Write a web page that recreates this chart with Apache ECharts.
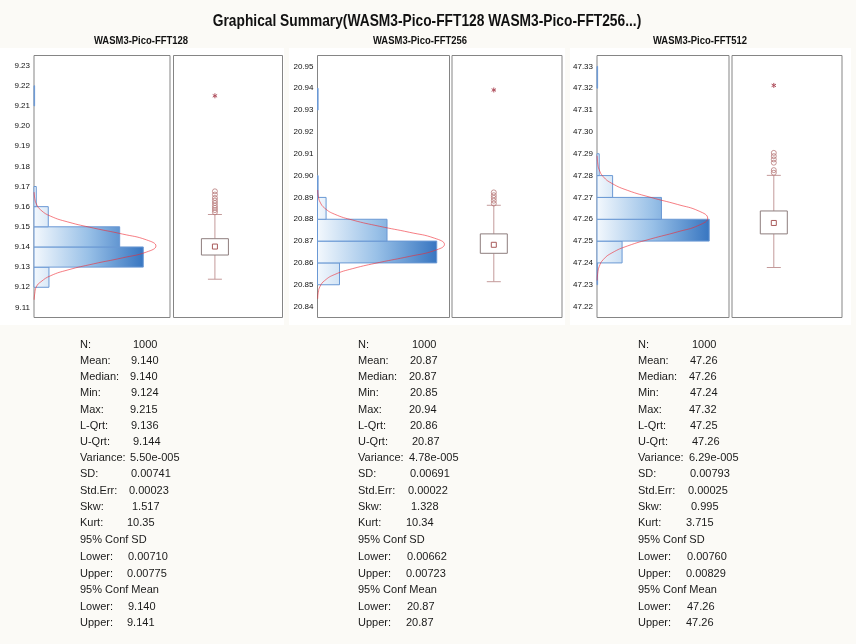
<!DOCTYPE html>
<html>
<head>
<meta charset="utf-8">
<script src="https://cdn.jsdelivr.net/npm/echarts@6/dist/echarts.min.js"></script>
<style>
  html, body { margin: 0; padding: 0; background: #fbfaf6; }
  #main { width: 856px; height: 644px; }
</style>
</head>
<body>
<div id="main"></div>
<script>
// ---- data ----
var chartTitle = "Graphical Summary(WASM3-Pico-FFT128 WASM3-Pico-FFT256...)";
var panelNames = ["WASM3-Pico-FFT128", "WASM3-Pico-FFT256", "WASM3-Pico-FFT512"];
var binWidth = 0.01;

// histogram bins (lower edge) and counts
var binLow128 = [9.12, 9.13, 9.14, 9.15, 9.16, 9.21];
var counts128 = [66, 482, 378, 63, 10, 1];
var binLow256 = [20.85, 20.86, 20.87, 20.88, 20.89, 20.93];
var counts256 = [100, 542, 316, 39, 2, 1];
var binLow512 = [47.23, 47.24, 47.25, 47.26, 47.27, 47.28, 47.32];
var counts512 = [1, 114, 510, 293, 71, 10, 1];

// value axis ranges and tick labels
var range128 = [9.105, 9.235];
var range256 = [20.835, 20.955];
var range512 = [47.215, 47.335];
var ticks128 = [9.11, 9.12, 9.13, 9.14, 9.15, 9.16, 9.17, 9.18, 9.19, 9.20, 9.21, 9.22, 9.23];
var ticks256 = [20.84, 20.85, 20.86, 20.87, 20.88, 20.89, 20.90, 20.91, 20.92, 20.93, 20.94, 20.95];
var ticks512 = [47.22, 47.23, 47.24, 47.25, 47.26, 47.27, 47.28, 47.29, 47.30, 47.31, 47.32, 47.33];

// normal fit curve, [value, count] points
var curve128 = [[9.1138, 0.8], [9.1168, 3.2], [9.1203, 10.7], [9.1227, 30.2], [9.1257, 72.8], [9.1286, 149.6],
  [9.1316, 261.9], [9.1346, 390.6], [9.1375, 496.6], [9.1405, 538], [9.1435, 496.6], [9.1464, 390.6],
  [9.1494, 261.9], [9.1524, 149.6], [9.1553, 72.8], [9.1583, 30.2], [9.1613, 10.7], [9.1642, 3.2], [9.1672, 0.8]];
var curve256 = [[20.8436, 0.9], [20.8464, 3.5], [20.8492, 11.4], [20.8519, 32.4], [20.8547, 78.1], [20.8574, 160.4],
  [20.8602, 280.9], [20.8630, 419.0], [20.8657, 532.6], [20.8685, 577], [20.8713, 532.6], [20.8740, 419.0],
  [20.8768, 280.9], [20.8796, 160.4], [20.8823, 78.1], [20.8851, 32.4], [20.8879, 11.4], [20.8906, 3.5], [20.8934, 0.9]];
var curve512 = [[47.2320, 0.8], [47.2351, 3.0], [47.2383, 10.0], [47.2415, 28.2], [47.2446, 68.1], [47.2478, 139.8],
  [47.2510, 244.9], [47.2542, 365.2], [47.2573, 464.3], [47.2605, 503], [47.2637, 464.3], [47.2668, 365.2],
  [47.2700, 244.9], [47.2732, 139.8], [47.2764, 68.1], [47.2795, 28.2], [47.2827, 10.0], [47.2859, 3.0], [47.2891, 0.8]];

// box plots: [whisker low, Q1, Q3, whisker high], mean, outliers, extremes
var box128 = [9.124, 9.136, 9.1441, 9.1561];
var mean128 = 9.1402;
var outliers128 = [9.1572, 9.1583, 9.1594, 9.1605, 9.1618, 9.1630, 9.1643, 9.1660, 9.1676];
var extreme128 = [9.215];
var box256 = [20.8514, 20.8644, 20.8733, 20.8864];
var mean256 = 20.8683;
var outliers256 = [20.8872, 20.8885, 20.8898, 20.8910, 20.8923];
var extreme256 = [20.9392];
var box512 = [47.2379, 47.2533, 47.2638, 47.2801];
var mean512 = 47.2583;
var outliers512 = [47.2813, 47.2825, 47.2859, 47.2874, 47.2889, 47.2904];
var extreme512 = [47.3213];

// summary statistics text
var statLabels = ["N:", "Mean:", "Median:", "Min:", "Max:", "L-Qrt:", "U-Qrt:", "Variance:", "SD:", "Std.Err:",
  "Skw:", "Kurt:", "95% Conf SD", "Lower:", "Upper:", "95% Conf Mean", "Lower:", "Upper:"];
var stats128 = ["1000", "9.140", "9.140", "9.124", "9.215", "9.136", "9.144", "5.50e-005", "0.00741", "0.00023",
  "1.517", "10.35", "", "0.00710", "0.00775", "", "9.140", "9.141"];
var stats256 = ["1000", "20.87", "20.87", "20.85", "20.94", "20.86", "20.87", "4.78e-005", "0.00691", "0.00022",
  "1.328", "10.34", "", "0.00662", "0.00723", "", "20.87", "20.87"];
var stats512 = ["1000", "47.26", "47.26", "47.24", "47.32", "47.25", "47.26", "6.29e-005", "0.00793", "0.00025",
  "0.995", "3.715", "", "0.00760", "0.00829", "", "47.26", "47.26"];

// ---- layout ----
var panels = [
  { bins: binLow128, counts: counts128, range: range128, ticks: ticks128, curve: curve128, box: box128, mean: mean128, outliers: outliers128, extreme: extreme128, stats: stats128 },
  { bins: binLow256, counts: counts256, range: range256, ticks: ticks256, curve: curve256, box: box256, mean: mean256, outliers: outliers256, extreme: extreme256, stats: stats256 },
  { bins: binLow512, counts: counts512, range: range512, ticks: ticks512, curve: curve512, box: box512, mean: mean512, outliers: outliers512, extreme: extreme512, stats: stats512 }
];
var histLeft = [34, 317.5, 597];
var histWidth = [136, 132, 132];
var boxLeft = [173.5, 452, 732];
var boxWidth = [109, 110, 110];
var plotTop = 55.5, plotHeight = 262;
var countMax = 600;
var boxX = 0.38;
var colCenter = [141, 420, 700];
var labelX = [80, 358, 638];
var valueDx = [53, 51, 50, 51, 50, 51, 53, 50, 51, 49, 52, 47, 0, 48, 47, 0, 48, 47];
var font = "'Liberation Sans', Arial, sans-serif";

var chartDom = document.getElementById("main");
var myChart = echarts.init(chartDom);

function histItem(maxCount) {
  return function (params, api) {
    var lo = api.value(0), hi = api.value(1), c = api.value(2);
    var a = api.coord([0, hi]);
    var b = api.coord([c, lo]);
    var xEnd = api.coord([maxCount, lo])[0];
    return {
      type: "rect",
      shape: { x: a[0], y: a[1], width: Math.max(b[0] - a[0], 0.6), height: b[1] - a[1] },
      style: {
        fill: new echarts.graphic.LinearGradient(a[0], 0, xEnd, 0, [
          { offset: 0, color: "#f3f8fd" },
          { offset: 0.5, color: "#98c0e7" },
          { offset: 1, color: "#3876c1" }
        ], true),
        stroke: "#6a98d4",
        lineWidth: 1
      }
    };
  };
}

function boxItem(params, api) {
  var cx = api.coord([api.value(0), api.value(1)])[0];
  var yLow = api.coord([api.value(0), api.value(1)])[1];
  var yQ1 = api.coord([api.value(0), api.value(2)])[1];
  var yQ3 = api.coord([api.value(0), api.value(3)])[1];
  var yHigh = api.coord([api.value(0), api.value(4)])[1];
  var yMean = api.coord([api.value(0), api.value(5)])[1];
  var wStyle = { stroke: "#c49a9a", lineWidth: 1 };
  return {
    type: "group",
    children: [
      { type: "line", shape: { x1: cx, y1: yLow, x2: cx, y2: yQ1 }, style: wStyle },
      { type: "line", shape: { x1: cx, y1: yQ3, x2: cx, y2: yHigh }, style: wStyle },
      { type: "line", shape: { x1: cx - 7, y1: yLow, x2: cx + 7, y2: yLow }, style: wStyle },
      { type: "line", shape: { x1: cx - 7, y1: yHigh, x2: cx + 7, y2: yHigh }, style: wStyle },
      { type: "rect", shape: { x: cx - 13.5, y: yQ3, width: 27, height: yQ1 - yQ3 }, style: { fill: "#fff", stroke: "#8e7e7e", lineWidth: 1 } },
      { type: "rect", shape: { x: cx - 2.5, y: yMean - 2.5, width: 5, height: 5 }, style: { fill: "none", stroke: "#a85a5a", lineWidth: 1 } }
    ]
  };
}

function starItem(params, api) {
  var p = api.coord([api.value(0), api.value(1)]);
  var s = { stroke: "#b0505e", lineWidth: 1 };
  return {
    type: "group",
    children: [
      { type: "line", shape: { x1: p[0], y1: p[1] - 2.5, x2: p[0], y2: p[1] + 2.5 }, style: s },
      { type: "line", shape: { x1: p[0] - 2.2, y1: p[1] - 1.3, x2: p[0] + 2.2, y2: p[1] + 1.3 }, style: s },
      { type: "line", shape: { x1: p[0] - 2.2, y1: p[1] + 1.3, x2: p[0] + 2.2, y2: p[1] - 1.3 }, style: s }
    ]
  };
}

var grids = [], xAxes = [], yAxes = [], series = [];
var graphics = [
  { type: "rect", z: -100, shape: { x: 0, y: 48, width: 284, height: 277 }, style: { fill: "#ffffff" } },
  { type: "rect", z: -100, shape: { x: 289, y: 48, width: 276, height: 277 }, style: { fill: "#ffffff" } },
  { type: "rect", z: -100, shape: { x: 570, y: 48, width: 281, height: 277 }, style: { fill: "#ffffff" } },
  { type: "text", x: 427, y: 21, scaleX: 0.81, style: { text: chartTitle, font: "bold 17px " + font, fill: "#111", textAlign: "center", textVerticalAlign: "middle" } }
];

panels.forEach(function (p, i) {
  var gH = i * 2, gB = i * 2 + 1;
  grids.push({ left: histLeft[i], top: plotTop, width: histWidth[i], height: plotHeight, show: true, borderColor: "#858585", borderWidth: 1, backgroundColor: "transparent" });
  grids.push({ left: boxLeft[i], top: plotTop, width: boxWidth[i], height: plotHeight, show: true, borderColor: "#858585", borderWidth: 1, backgroundColor: "transparent" });
  xAxes.push({ gridIndex: gH, type: "value", min: 0, max: countMax, show: false });
  xAxes.push({ gridIndex: gB, type: "value", min: 0, max: 1, show: false });
  yAxes.push({
    gridIndex: gH, type: "value", min: p.range[0], max: p.range[1],
    axisLine: { show: false }, axisTick: { show: false }, splitLine: { show: false },
    axisLabel: {
      customValues: p.ticks, margin: 4, fontSize: 8, color: "#111", fontFamily: font,
      formatter: function (v) { return v.toFixed(2); }
    }
  });
  yAxes.push({
    gridIndex: gB, type: "value", min: p.range[0], max: p.range[1],
    axisLine: { show: false }, axisTick: { show: false }, splitLine: { show: false }, axisLabel: { show: false }
  });

  var maxCount = Math.max.apply(null, p.counts);
  series.push({
    type: "custom", xAxisIndex: gH, yAxisIndex: gH,
    renderItem: histItem(maxCount),
    encode: { x: 2, y: [0, 1] },
    data: p.bins.map(function (lo, k) { return [lo, +(lo + binWidth).toFixed(4), p.counts[k]]; }),
    silent: true
  });
  series.push({
    type: "line", xAxisIndex: gH, yAxisIndex: gH, smooth: true, symbol: "none",
    lineStyle: { color: "rgba(240,40,50,0.6)", width: 1 },
    data: p.curve.map(function (d) { return [d[1], d[0]]; }),
    silent: true, z: 5
  });
  series.push({
    type: "custom", xAxisIndex: gB, yAxisIndex: gB,
    renderItem: boxItem,
    encode: { x: 0, y: [1, 2, 3, 4, 5] },
    data: [[boxX, p.box[0], p.box[1], p.box[2], p.box[3], p.mean]],
    silent: true
  });
  series.push({
    type: "scatter", xAxisIndex: gB, yAxisIndex: gB,
    symbol: "circle", symbolSize: 5,
    itemStyle: { color: "rgba(0,0,0,0)", borderColor: "#b87a7a", borderWidth: 1 },
    data: p.outliers.map(function (v) { return [boxX, v]; }),
    silent: true
  });
  series.push({
    type: "custom", xAxisIndex: gB, yAxisIndex: gB,
    renderItem: starItem,
    encode: { x: 0, y: 1 },
    data: p.extreme.map(function (v) { return [boxX, v]; }),
    silent: true
  });

  graphics.push({
    type: "text", x: colCenter[i], y: 41, scaleX: 0.86,
    style: { text: panelNames[i], font: "bold 11px " + font, fill: "#111", textAlign: "center", textVerticalAlign: "middle" }
  });
  statLabels.forEach(function (lab, r) {
    var y = r < 12 ? 344.7 + r * 16.2 : 540.3 + (r - 12) * 16.6;
    graphics.push({
      type: "text", x: labelX[i], y: y,
      style: { text: lab, font: "11px " + font, fill: "#1a1a1a", textVerticalAlign: "middle" }
    });
    if (p.stats[r]) {
      graphics.push({
        type: "text", x: labelX[i] + valueDx[r] + (i === 0 ? 0 : 1), y: y,
        style: { text: p.stats[r], font: "11px " + font, fill: "#1a1a1a", textVerticalAlign: "middle" }
      });
    }
  });
});

var option = {
  backgroundColor: "#fbfaf6",
  animation: false,
  grid: grids,
  xAxis: xAxes,
  yAxis: yAxes,
  series: series,
  graphic: { elements: graphics }
};

option && myChart.setOption(option);
</script>
</body>
</html>
